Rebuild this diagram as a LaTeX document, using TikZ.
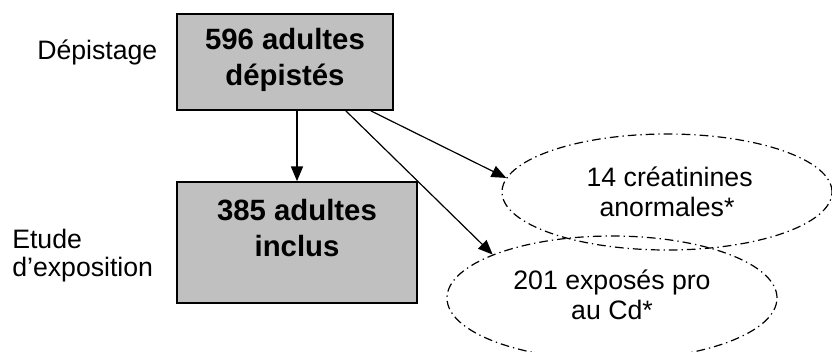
\documentclass[tikz,border=0pt]{standalone}
\usepackage{fontspec}
\setmainfont{Liberation Sans}
\usetikzlibrary{shapes.geometric,arrows.meta}
\tikzset{
  box/.style={draw=black, line width=1.3pt, fill={rgb,255:red,192;green,192;blue,192}, inner sep=0pt},
  boxtext/.style={align=center, font=\fontsize{22}{27}\selectfont\bfseries, inner sep=0pt},
  oval/.style={ellipse, draw=black, line width=0.9pt, inner sep=0pt, align=center,
    dash pattern=on 6.5pt off 3pt on 1pt off 3pt, font=\fontsize{20}{22.5}\selectfont},
  lbl/.style={align=left, font=\fontsize{20}{21}\selectfont, inner sep=0pt},
  arr/.style={draw=black, line width=0.9pt, -{Triangle[length=11pt,width=9pt]}}
}
\begin{document}
\begin{tikzpicture}[x=0.75pt,y=-0.75pt]
\useasboundingbox (0,0) rectangle (832,351);
\node[box, minimum width=162pt, minimum height=72pt] (b1) at (285,62) {};
\node[boxtext] (b1t) at (285,60) {596 adultes\\dépistés};
\node[box, minimum width=180pt, minimum height=90.75pt] (b2) at (297,242.5) {};
\node[boxtext] (b2t) at (297,228) {385 adultes\\inclus};
\node[oval, minimum width=247.5pt, minimum height=87pt] (e1) at (667,192) {\hspace*{4pt}14 créatinines\\anormales*};
\node[oval, minimum width=247.5pt, minimum height=93pt] (e2) at (612,298) {\raisebox{4pt}{\begin{tabular}{@{}c@{}}201 exposés pro\\au Cd*\end{tabular}}};
\node[lbl, anchor=west] (l1) at (37,52) {Dépistage};
\node[lbl, anchor=west] (l2) at (12,256) {Etude\\d’exposition};
\draw[arr] (b1.south -| b2.north) -- (b2.north);
\draw[arr] ([xshift=-17.25pt]b1.south east) -- (e1.175.5);
\draw[arr] ([xshift=-36pt]b1.south east) -- (e2.160.9);
\end{tikzpicture}
\end{document}
